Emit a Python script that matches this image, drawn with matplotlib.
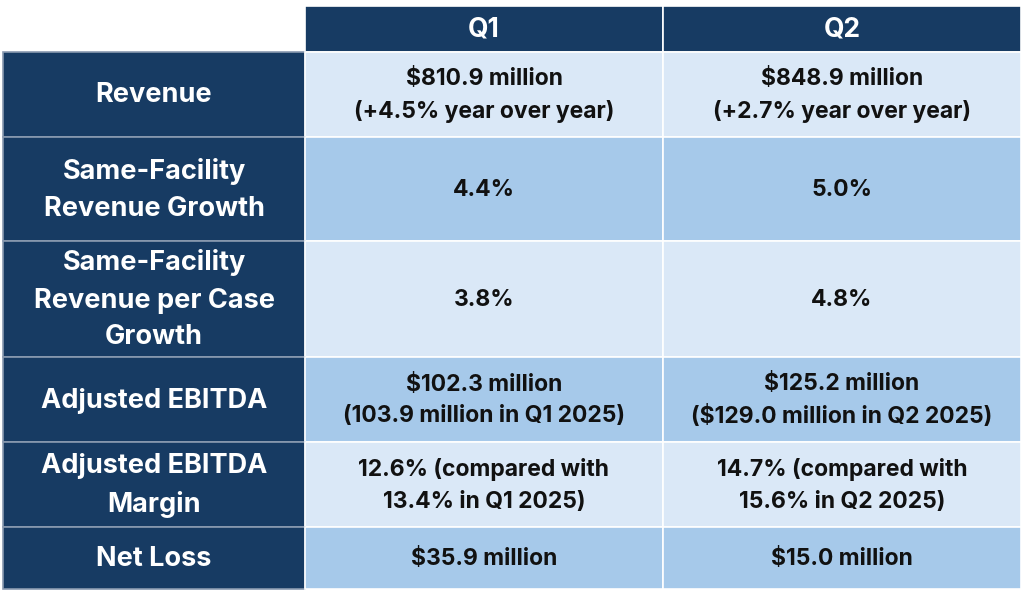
import matplotlib.pyplot as plt
from matplotlib.patches import Rectangle

# table content
col_headers = ['Q1', 'Q2']
row_labels = [
    'Revenue',
    'Same-Facility\nRevenue Growth',
    'Same-Facility\nRevenue per Case\nGrowth',
    'Adjusted EBITDA',
    'Adjusted EBITDA\nMargin',
    'Net Loss',
]
q1_values = [
    '$810.9 million\n(+4.5% year over year)',
    '4.4%',
    '3.8%',
    '$102.3 million\n(103.9 million in Q1 2025)',
    '12.6% (compared with\n13.4% in Q1 2025)',
    '$35.9 million',
]
q2_values = [
    '$848.9 million\n(+2.7% year over year)',
    '5.0%',
    '4.8%',
    '$125.2 million\n($129.0 million in Q2 2025)',
    '14.7% (compared with\n15.6% in Q2 2025)',
    '$15.0 million',
]

# layout in pixels
W, H = 1024, 592
col_edges = [3, 305, 663, 1021]
row_edges = [6, 52, 137, 241, 357, 442, 527, 589]

navy = '#173b63'
light = '#dae8f7'
mid = '#a6c9ea'
font = ['Inter', 'DejaVu Sans']

fig = plt.figure(figsize=(W / 100, H / 100), dpi=100)
ax = fig.add_axes([0, 0, 1, 1])
ax.set_xlim(0, W)
ax.set_ylim(H, 0)
ax.axis('off')


def cell(x0, x1, y0, y1, color, text, tcolor, size, edge='white'):
    ax.add_patch(Rectangle((x0, y0), x1 - x0, y1 - y0, facecolor=color,
                           edgecolor=edge, linewidth=1.2))
    ax.text((x0 + x1) / 2, (y0 + y1) / 2 + 1, text, ha='center', va='center',
            color=tcolor, fontsize=size, fontweight='bold', family=font,
            linespacing=1.55)


# header row
for j, h in enumerate(col_headers):
    cell(col_edges[j + 1], col_edges[j + 2], row_edges[0], row_edges[1],
         navy, h, 'white', 19)

# body rows
for i, lab in enumerate(row_labels):
    y0, y1 = row_edges[i + 1], row_edges[i + 2]
    bg = light if i % 2 == 0 else mid
    cell(col_edges[0], col_edges[1], y0, y1, navy, lab, 'white', 19.5,
         edge='#8a9ab0')
    cell(col_edges[1], col_edges[2], y0, y1, bg, q1_values[i], '#111111', 16.5)
    cell(col_edges[2], col_edges[3], y0, y1, bg, q2_values[i], '#111111', 16.5)

fig.savefig('out.png', dpi=100, facecolor='white')
